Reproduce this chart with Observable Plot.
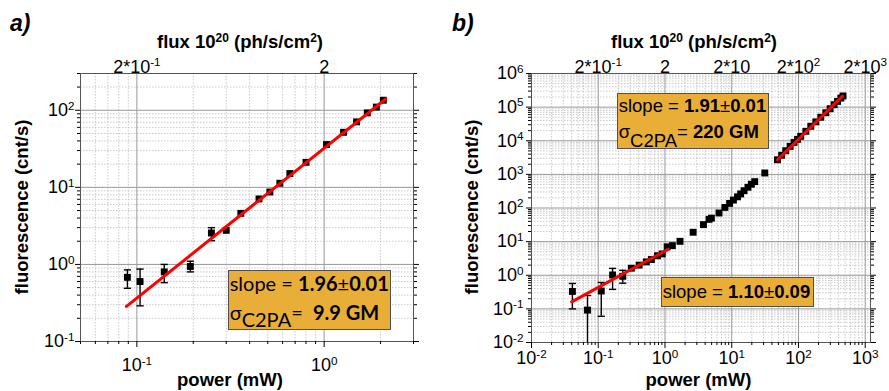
<!DOCTYPE html>
<html><head><meta charset="utf-8">
<script src="https://cdn.jsdelivr.net/npm/d3@7"></script>
<script src="https://cdn.jsdelivr.net/npm/@observablehq/plot@0.6"></script>
<style>
html,body{margin:0;padding:0;background:#fff;}
#wrap{position:relative;width:889px;height:391px;overflow:hidden;font-family:'Liberation Sans',Arial,sans-serif;color:#000;}
.panel{position:absolute;top:0;}
.panel svg{display:block;}
.t{position:absolute;white-space:nowrap;line-height:1;}
.ax{font-weight:bold;font-size:18.5px;}
.sup{font-size:0.65em;position:relative;top:-0.55em;}
.box{position:absolute;box-sizing:border-box;border:1px solid #505050;background:#E8AE38;}
.box .t{left:1px;}
.boxa .t{font-family:Lato,'Open Sans',sans-serif;font-size:20px;}
.boxb .t{font-family:'Liberation Sans',Arial,sans-serif;font-size:18.5px;}
.sub{position:relative;}
.boxa .sub{top:7px;}
.boxb .sub{top:9px;}
</style></head><body>
<div id="wrap">
  <div class="panel" id="pa" style="left:0"></div>
  <div class="panel" id="pb" style="left:445px"></div>

  <div class="t" style="left:10px;top:12.2px;font-weight:bold;font-style:italic;font-size:23px;">a)</div>
  <div class="t" style="left:452px;top:12.2px;font-weight:bold;font-style:italic;font-size:23px;">b)</div>

  <div class="t ax" style="left:240px;top:33.3px;transform:translateX(-50%);">flux 10<span class="sup">20</span> (ph/s/cm<span class="sup">2</span>)</div>
  <div class="t ax" style="left:694px;top:33.3px;transform:translateX(-50%);">flux 10<span class="sup">20</span> (ph/s/cm<span class="sup">2</span>)</div>

  <div class="t ax" style="left:230px;top:371.3px;transform:translateX(-50%);">power (mW)</div>
  <div class="t ax" style="left:698.5px;top:370.8px;transform:translateX(-50%);">power (mW)</div>

  <div class="t ax" style="left:22.1px;top:206.5px;transform:translate(-50%,-50%) rotate(-90deg);">fluorescence (cnt/s)</div>
  <div class="t ax" style="left:471.6px;top:206.5px;transform:translate(-50%,-50%) rotate(-90deg);">fluorescence (cnt/s)</div>

  <div class="box boxa" style="left:227.7px;top:270px;width:163px;height:60px;">
    <div class="t" style="top:2.3px;">slope = <b>1.96</b>±<b>0.01</b></div>
    <div class="t" style="top:30.6px;">σ<span class="sub">C2PA</span>=&nbsp;&nbsp;<b>9.9 GM</b></div>
  </div>
  <div class="box boxb" style="left:616.7px;top:93.3px;width:152.6px;height:56px;">
    <div class="t" style="top:3px;">slope = <b>1.91</b>±<b>0.01</b></div>
    <div class="t" style="top:28.3px;">σ<span class="sub">C2PA</span>= <b>220 GM</b></div>
  </div>
  <div class="box boxb" style="left:660.7px;top:277.3px;width:153.3px;height:29.4px;">
    <div class="t" style="top:4.3px;">slope = <b>1.10</b>±<b>0.09</b></div>
  </div>
</div>
<script>
// ---------- Panel a data ----------
const powerA = [0.089, 0.104, 0.140, 0.193, 0.25, 0.30, 0.359, 0.449, 0.513, 0.58, 0.656, 0.80, 1.03, 1.27, 1.49, 1.70, 1.90, 2.07];
const fluorA = [0.68, 0.60, 0.80, 0.94, 2.56, 2.77, 4.6, 7.07, 8.7, 11.3, 15.1, 21.1, 35.9, 51.8, 70.7, 92.5, 110, 135];
const errPowerA = [0.089, 0.104, 0.140, 0.193, 0.25];
const errLowA = [0.49, 0.29, 0.58, 0.80, 2.03];
const errHighA = [0.85, 0.87, 1.0, 1.1, 3.0];
const fitPowerA = [0.088, 2.13];
const fitFluorA = [0.285, 140];
const xDomainA = [0.05, 3];
const yDomainA = [0.1, 300];
const xMajorA = [0.1, 1];
const yMajorA = [0.1, 1, 10, 100];
const topTicksA = [0.1, 1];
const topLabelsA = ["2*10^-1", "2"];

// ---------- Panel b data ----------
const powerB = [0.041, 0.069, 0.111, 0.164, 0.233, 0.313, 0.41, 0.526, 0.625, 0.77, 0.91, 1.08, 1.29, 1.68, 2.64, 3.77, 4.57, 4.96, 6.45, 7.9, 9.3, 10.6, 12.2, 13.6, 15.3, 17.5, 19.7, 22.1, 31.3,
                48.4, 56, 64.4, 75, 85.9, 97, 108, 129, 153, 182, 216, 257, 298, 342, 385, 431, 465];
const fluorB = [0.33, 0.092, 0.34, 1.02, 0.93, 1.62, 2.0, 2.5, 2.93, 3.8, 4.3, 7.0, 7.6, 10.2, 19, 32, 46, 50, 71, 104, 137, 172, 215, 262, 327, 414, 509, 608, 1100,
                2716, 3700, 5058, 6800, 8950, 11000, 13550, 19100, 27000, 36500, 50000, 68000, 89600, 118000, 148000, 186000, 215000];
const errPowerB = [0.041, 0.069, 0.111, 0.164, 0.233];
const errLowB = [0.10, 0.004, 0.06, 0.38, 0.58];
const errHighB = [0.57, 0.25, 0.61, 1.6, 1.4];
const fitLowPowerB = [0.040, 1.11];
const fitLowFluorB = [0.162, 5.9];
const fitHighPowerB = [48.4, 457];
const fitHighFluorB = [2716, 213000];
const xDomainB = [0.01, 1200];
const yDomainB = [0.01, 1e6];
const xMajorB = [0.01, 0.1, 1, 10, 100, 1000];
const yMajorB = [0.01, 0.1, 1, 10, 100, 1e3, 1e4, 1e5, 1e6];
const topTicksB = [0.1, 1, 10, 100, 1000];
const topLabelsB = ["2*10^-1", "2", "2*10", "2*10^2", "2*10^3"];

// ---------- helpers ----------
const capSymbol = { draw(ctx, size) { const w = Math.sqrt(size / Math.PI); ctx.moveTo(-w, 0); ctx.lineTo(w, 0); } };
const isPow10 = v => Math.abs(Math.log10(v) - Math.round(Math.log10(v))) < 1e-9;
const minors = dom => d3.scaleLog().domain(dom).ticks().filter(v => !isPow10(v));
const fmtPow = d => "10^" + Math.round(Math.log10(d));
const blank = () => "";
const toRows = (xs, ys) => xs.map((p, i) => ({p, f: ys[i]}));

function supify(svg) {
  d3.select(svg).selectAll("text").each(function () {
    const t = this.textContent;
    if (!t.includes("^") || this.children.length) return;
    const [base, sup] = t.split("^");
    const sel = d3.select(this);
    sel.text(null);
    sel.append("tspan").text(base);
    sel.append("tspan").attr("font-size", "0.65em").attr("dy", "-0.55em").text(sup);
  });
}

function panel(cfg) {
  const pts = toRows(cfg.power, cfg.fluor);
  const errs = cfg.errPower.map((p, i) => ({p, lo: cfg.errLow[i], hi: cfg.errHigh[i]}));
  const xMin = minors(cfg.xDomain), yMin = minors(cfg.yDomain);
  const gridMinor = {stroke: "#bdbdbd", strokeWidth: 0.8, strokeDasharray: "1.5,1.5"};
  const gridMajor = {stroke: "#999", strokeWidth: 1};
  const marks = [
    Plot.ruleX(xMin, gridMinor),
    Plot.ruleY(yMin, gridMinor),
    Plot.ruleX(cfg.xMajor, gridMajor),
    Plot.ruleY(cfg.yMajor, gridMajor),
    Plot.frame({stroke: "#555"}),
    Plot.axisX({anchor: "bottom", ticks: cfg.xMajor, tickFormat: fmtPow, tickSize: 6, tickPadding: cfg.bottomPad}),
    Plot.axisX({anchor: "bottom", ticks: xMin, tickFormat: blank, tickSize: 3}),
    Plot.axisX({anchor: "top", ticks: cfg.topTicks, tickFormat: d => cfg.topLabels[cfg.topTicks.indexOf(d)], tickSize: 0, tickPadding: 1}),
    Plot.axisY({anchor: "left", ticks: cfg.yMajor, tickFormat: fmtPow, tickSize: 5, tickPadding: cfg.leftPad}),
    Plot.axisY({anchor: "left", ticks: yMin, tickFormat: blank, tickSize: 3}),
    Plot.axisY({anchor: "right", ticks: cfg.yMajor, tickFormat: blank, tickSize: 5}),
    Plot.axisY({anchor: "right", ticks: yMin, tickFormat: blank, tickSize: 3}),
    Plot.ruleX(errs, {x: "p", y1: "lo", y2: "hi", stroke: "#000", strokeWidth: 1.4, clip: true}),
    Plot.dot(errs, {x: "p", y: "hi", symbol: capSymbol, r: 3.6, fill: "none", stroke: "#000", strokeWidth: 1.4, clip: true}),
    Plot.dot(errs, {x: "p", y: "lo", symbol: capSymbol, r: 3.6, fill: "none", stroke: "#000", strokeWidth: 1.4, clip: true}),
    Plot.dot(pts, {x: "p", y: "f", symbol: "square", r: 3.9, fill: "#000", stroke: "none"}),
    ...cfg.fits.map(f => Plot.line(f, {x: "p", y: "f", stroke: "#f00", strokeWidth: 3}))
  ];
  const svg = Plot.plot({
    width: cfg.width, height: 391,
    marginTop: 73, marginBottom: cfg.mb, marginLeft: cfg.ml, marginRight: cfg.mr,
    x: {type: "log", domain: cfg.xDomain, label: null},
    y: {type: "log", domain: cfg.yDomain, label: null},
    style: {fontFamily: "'Liberation Sans', Arial, sans-serif", fontSize: "18px", color: "#000", background: "transparent", overflow: "visible"},
    marks
  });
  supify(svg);
  return svg;
}

document.getElementById("pa").appendChild(panel({
  width: 445, ml: 80, mr: 32, mb: 50, bottomPad: 11, leftPad: 1,
  power: powerA, fluor: fluorA, errPower: errPowerA, errLow: errLowA, errHigh: errHighA,
  xDomain: xDomainA, yDomain: yDomainA, xMajor: xMajorA, yMajor: yMajorA,
  topTicks: topTicksA, topLabels: topLabelsA,
  fits: [toRows(fitPowerA, fitFluorA)]
}));
document.getElementById("pb").appendChild(panel({
  width: 444, ml: 86, mr: 19, mb: 49, bottomPad: 3, leftPad: 3,
  power: powerB, fluor: fluorB, errPower: errPowerB, errLow: errLowB, errHigh: errHighB,
  xDomain: xDomainB, yDomain: yDomainB, xMajor: xMajorB, yMajor: yMajorB,
  topTicks: topTicksB, topLabels: topLabelsB,
  fits: [toRows(fitLowPowerB, fitLowFluorB), toRows(fitHighPowerB, fitHighFluorB)]
}));
</script>
</body></html>
